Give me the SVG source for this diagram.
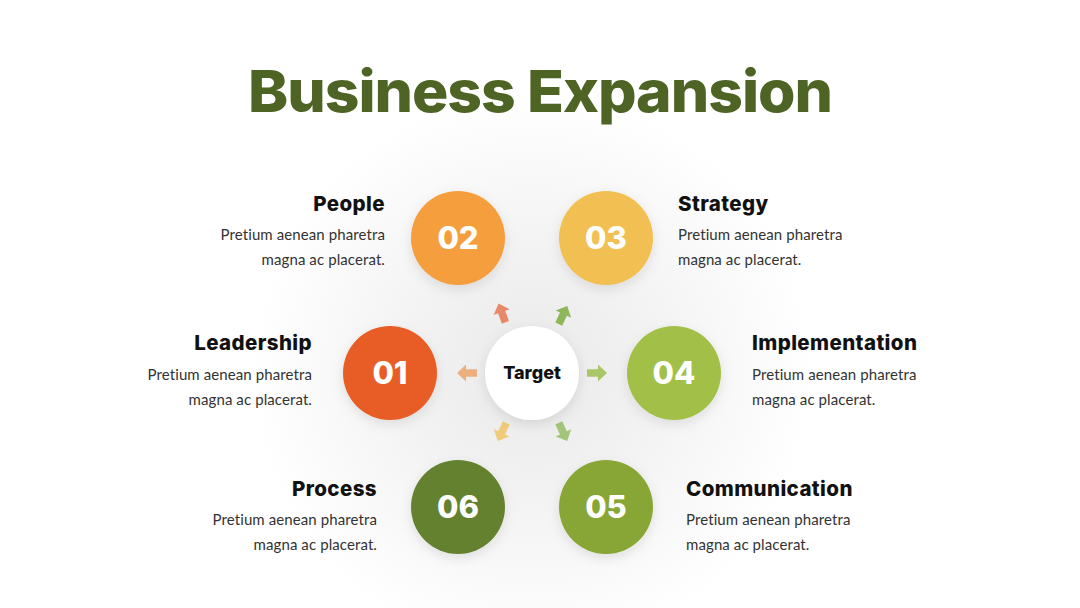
<svg xmlns="http://www.w3.org/2000/svg" width="1080" height="608" viewBox="0 0 1080 608">
<defs>
<radialGradient id="glow" cx="532" cy="373" r="280" gradientUnits="userSpaceOnUse">
<stop offset="0" stop-color="#e9e9e9"/>
<stop offset="0.55" stop-color="#f5f5f5"/>
<stop offset="1" stop-color="#ffffff"/>
</radialGradient>
<filter id="sh" x="-50%" y="-50%" width="200%" height="200%">
<feDropShadow dx="0" dy="4" stdDeviation="6" flood-color="#000" flood-opacity="0.1"/>
</filter>
<path id="arr" d="M-10,-3.8 H1 V-8.5 L10,0 L1,8.5 V3.8 H-10 Z"/>
</defs>
<style>
.num{font-family:"Inter","Liberation Sans",sans-serif;font-weight:800;font-size:31px;fill:#fff;text-anchor:middle}
.hd{font-family:"Inter","Liberation Sans",sans-serif;font-weight:800;font-size:20.5px;letter-spacing:0.4px;fill:#111}
.bd{font-family:"Lato","Liberation Sans",sans-serif;font-size:15px;letter-spacing:0.1px;fill:#333}
.r{text-anchor:end}
</style>
<rect width="1080" height="608" fill="#fff"/>
<circle cx="532" cy="373" r="280" fill="url(#glow)"/>
<text x="540" y="112" text-anchor="middle" font-family="Inter,'Liberation Sans',sans-serif" font-weight="800" font-size="58" fill="#4E6425" textLength="584" lengthAdjust="spacingAndGlyphs" letter-spacing="-1">Business Expansion</text>

<g id="connectors">
<use href="#arr" fill="#EBB07E" transform="translate(467,373) rotate(180)"/>
<use href="#arr" fill="#A9C766" transform="translate(597,373)"/>
<use href="#arr" fill="#E88A6A" transform="translate(502,313) rotate(-110)"/>
<use href="#arr" fill="#8DB75A" transform="translate(563,315) rotate(-65)"/>
<use href="#arr" fill="#EFCB7A" transform="translate(502,432) rotate(115)"/>
<use href="#arr" fill="#A3C57A" transform="translate(563,432) rotate(65)"/>
</g>

<g id="target">
<circle cx="532" cy="373" r="47" fill="#fff" filter="url(#sh)"/>
<text x="532" y="379" text-anchor="middle" font-family="Inter,'Liberation Sans',sans-serif" font-weight="800" font-size="18" fill="#111">Target</text>
</g>

<g id="node01">
<circle cx="390" cy="373" r="47" fill="#E85D25" filter="url(#sh)"/>
<text class="num" x="390" y="384">01</text>
<text class="hd r" x="312" y="350">Leadership</text>
<text class="bd r" x="312" y="380">Pretium aenean pharetra</text>
<text class="bd r" x="312" y="405">magna ac placerat.</text>
</g>

<g id="node02">
<circle cx="458" cy="238" r="47" fill="#F59E3E" filter="url(#sh)"/>
<text class="num" x="458" y="249">02</text>
<text class="hd r" x="385" y="211">People</text>
<text class="bd r" x="385" y="240">Pretium aenean pharetra</text>
<text class="bd r" x="385" y="265">magna ac placerat.</text>
</g>

<g id="node03">
<circle cx="606" cy="238" r="47" fill="#F2BF52" filter="url(#sh)"/>
<text class="num" x="606" y="249">03</text>
<text class="hd" x="678" y="211">Strategy</text>
<text class="bd" x="678" y="240">Pretium aenean pharetra</text>
<text class="bd" x="678" y="265">magna ac placerat.</text>
</g>

<g id="node04">
<circle cx="674" cy="373" r="47" fill="#A2C046" filter="url(#sh)"/>
<text class="num" x="674" y="384">04</text>
<text class="hd" x="752" y="350">Implementation</text>
<text class="bd" x="752" y="380">Pretium aenean pharetra</text>
<text class="bd" x="752" y="405">magna ac placerat.</text>
</g>

<g id="node05">
<circle cx="606" cy="507" r="47" fill="#88A634" filter="url(#sh)"/>
<text class="num" x="606" y="518">05</text>
<text class="hd" x="686" y="496">Communication</text>
<text class="bd" x="686" y="525">Pretium aenean pharetra</text>
<text class="bd" x="686" y="550">magna ac placerat.</text>
</g>

<g id="node06">
<circle cx="458" cy="507" r="47" fill="#63812F" filter="url(#sh)"/>
<text class="num" x="458" y="518">06</text>
<text class="hd r" x="377" y="496">Process</text>
<text class="bd r" x="377" y="525">Pretium aenean pharetra</text>
<text class="bd r" x="377" y="550">magna ac placerat.</text>
</g>
</svg>
